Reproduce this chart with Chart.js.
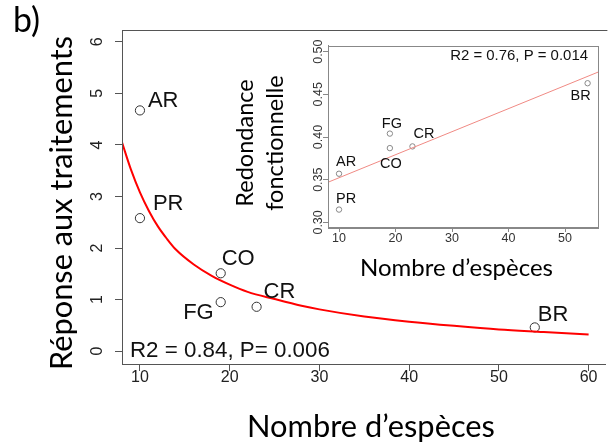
<!DOCTYPE html>
<html>
<head>
<meta charset="utf-8">
<script src="https://cdn.jsdelivr.net/npm/chart.js@4.4.1/dist/chart.umd.min.js"></script>
<style>
  html, body { margin: 0; padding: 0; background: #ffffff; }
  #wrap { position: relative; width: 611px; height: 444px; overflow: hidden; background: #fff; }
  #main { position: absolute; left: 0; top: 0; }
  #inset { position: absolute; left: 230px; top: 35px; }
</style>
</head>
<body>
<div id="wrap">
  <canvas id="main" width="611" height="444"></canvas>
  <canvas id="inset" width="381" height="255"></canvas>
</div>
<script>
// ---------- DATA ----------
const sites = ['AR', 'PR', 'CO', 'FG', 'CR', 'BR'];

// main panel: response to treatments vs number of species
const mainSpecies  = [10, 10, 19, 19, 23, 54];
const mainResponse = [4.67, 2.58, 1.51, 0.95, 0.86, 0.46];

// fitted decreasing curve
const curveSpecies  = [8, 9, 10, 11, 12, 13, 14, 16, 18, 20, 22, 25, 28, 30, 35, 40, 45, 50, 55, 60];
const curveResponse = [4.05, 3.52, 3.08, 2.72, 2.42, 2.18, 1.97, 1.68, 1.46, 1.29, 1.15, 1.01, 0.88, 0.81, 0.67, 0.57, 0.49, 0.42, 0.37, 0.32];

const mainXTicks = [10, 20, 30, 40, 50, 60];
const mainYTicks = [0, 1, 2, 3, 4, 5, 6];
const mainXTickLabels = ['10', '20', '30', '40', '50', '60'];
const mainYTickLabels = ['0', '1', '2', '3', '4', '5', '6'];

// inset: functional redundancy vs number of species
const insetSpecies    = [10, 10, 19, 19, 23, 54];
const insetRedundancy = [0.357, 0.315, 0.387, 0.404, 0.389, 0.463];

// regression line end points (read at the panel edges)
const fitSpecies    = [8.05, 55.84];
const fitRedundancy = [0.347, 0.476];

const insetXTicks = [10, 20, 30, 40, 50];
const insetYTicks = [0.30, 0.35, 0.40, 0.45, 0.50];
const insetXTickLabels = ['10', '20', '30', '40', '50'];
const insetYTickLabels = ['0.30', '0.35', '0.40', '0.45', '0.50'];

const mainStat  = 'R2 = 0.84, P= 0.006';
const insetStat = 'R2 = 0.76, P = 0.014';
const xTitle = 'Nombre d’espèces';
const yTitle = 'Réponse aux traitements';
const insetYTitle = ['Redondance', 'fonctionnelle'];
const panelTag = 'b)';

// ---------- STYLE ----------
const SANS  = '"Liberation Sans", Arial, Helvetica, sans-serif';
const TITLE = 'Lato, "Open Sans", "Noto Sans", sans-serif';

// label placement (align, dx, dy from the point centre to the text baseline)
const mainLabelPos = [
  ['left', 8, -3], ['left', 13, -8], ['left', 1, -8],
  ['right', -7, 17], ['left', 7, -9], ['left', 3, -6]
];
const insetLabelPos = [
  ['left', -3, -8], ['left', -3, -7], ['center', 1, 20],
  ['center', 2, -6], ['left', 1, -8], ['right', 3, 17]
];

function fitSize(ctx, text, family, width) {
  ctx.font = '100px ' + family;
  return 100 * width / ctx.measureText(text).width;
}

function pts(xs, ys) { return xs.map((x, i) => ({ x: x, y: ys[i] })); }

function setTicks(values) {
  return function (scale) { scale.ticks = values.map(v => ({ value: v })); };
}

// ---------- MAIN CHART ----------
const mainDecor = {
  id: 'mainDecor',
  afterDraw(chart) {
    const ctx = chart.ctx;
    const a = chart.chartArea;
    const ys = chart.scales.y;
    ctx.save();
    // box (right side is outside the picture)
    ctx.strokeStyle = '#555';
    ctx.lineWidth = 1;
    ctx.beginPath();
    ctx.moveTo(a.right + 2, Math.round(a.top) + 0.5);
    ctx.lineTo(Math.round(a.left) + 0.5, Math.round(a.top) + 0.5);
    ctx.lineTo(Math.round(a.left) + 0.5, Math.round(a.bottom) + 0.5);
    ctx.stroke();

    // rotated y tick labels
    ctx.fillStyle = '#222';
    ctx.font = '16px ' + SANS;
    ctx.textAlign = 'center';
    ctx.textBaseline = 'alphabetic';
    ys.ticks.forEach((t, i) => {
      const py = ys.getPixelForValue(t.value);
      ctx.save();
      ctx.translate(102, py);
      ctx.rotate(-Math.PI / 2);
      ctx.fillText(mainYTickLabels[i], 0, 0);
      ctx.restore();
    });

    // point labels
    const meta = chart.getDatasetMeta(1);
    ctx.fillStyle = '#111';
    ctx.font = '22px ' + SANS;
    meta.data.forEach((el, i) => {
      const p = mainLabelPos[i];
      ctx.textAlign = p[0];
      ctx.fillText(sites[i], el.x + p[1], el.y + p[2]);
    });

    // statistics
    ctx.textAlign = 'left';
    ctx.font = fitSize(ctx, mainStat, SANS, 200).toFixed(2) + 'px ' + SANS;
    ctx.fillText(mainStat, 130, 357);

    // titles
    ctx.fillStyle = '#000';
    ctx.textAlign = 'center';
    ctx.font = fitSize(ctx, xTitle, TITLE, 248).toFixed(2) + 'px ' + TITLE;
    ctx.fillText(xTitle, 371, 437);

    ctx.save();
    ctx.font = fitSize(ctx, yTitle, TITLE, 334).toFixed(2) + 'px ' + TITLE;
    ctx.translate(72, 203);
    ctx.rotate(-Math.PI / 2);
    ctx.fillText(yTitle, 0, 0);
    ctx.restore();

    ctx.textAlign = 'left';
    ctx.font = fitSize(ctx, panelTag, TITLE, 27).toFixed(2) + 'px ' + TITLE;
    ctx.fillText(panelTag, 13, 32);
    ctx.restore();
  }
};

new Chart(document.getElementById('main'), {
  type: 'scatter',
  data: {
    datasets: [
      {
        type: 'line',
        data: pts(curveSpecies, curveResponse),
        borderColor: '#ff0000',
        borderWidth: 2,
        pointRadius: 0,
        fill: false,
        tension: 0.4,
        cubicInterpolationMode: 'monotone'
      },
      {
        type: 'scatter',
        data: pts(mainSpecies, mainResponse),
        pointRadius: 4.6,
        pointBorderWidth: 1,
        borderColor: '#333',
        backgroundColor: 'rgba(0,0,0,0)',
        pointBackgroundColor: 'rgba(0,0,0,0)',
        pointBorderColor: '#333'
      }
    ]
  },
  options: {
    responsive: false,
    animation: false,
    events: [],
    layout: { padding: { left: 0, top: 30, right: 0, bottom: 0 } },
    plugins: { legend: { display: false }, tooltip: { enabled: false } },
    scales: {
      x: {
        type: 'linear',
        min: 8,
        max: 61.87,
        afterBuildTicks: setTicks(mainXTicks),
        afterFit(s) { s.height = 80; },
        grid: { drawOnChartArea: false, tickLength: 7, color: '#555' },
        border: { display: true, color: '#555', width: 1 },
        ticks: {
          autoSkip: false, maxRotation: 0, padding: -3, color: '#222',
          font: { family: SANS, size: 16 },
          callback: (v, i) => mainXTickLabels[i]
        }
      },
      y: {
        type: 'linear',
        min: -0.25,
        max: 6.23,
        afterBuildTicks: setTicks(mainYTicks),
        afterFit(s) { s.width = 122; },
        grid: { drawOnChartArea: false, tickLength: 7, color: '#555' },
        border: { display: true, color: '#555', width: 1 },
        ticks: { color: 'rgba(0,0,0,0)', font: { family: SANS, size: 16 } }
      }
    }
  },
  plugins: [mainDecor]
});

// ---------- INSET CHART ----------
const insetDecor = {
  id: 'insetDecor',
  afterDraw(chart) {
    const ctx = chart.ctx;
    const a = chart.chartArea;
    const ys = chart.scales.y;
    ctx.save();
    ctx.strokeStyle = '#888';
    ctx.lineWidth = 1;
    ctx.strokeRect(Math.round(a.left) + 0.5, Math.round(a.top) + 0.5,
                   Math.round(a.right - a.left), Math.round(a.bottom - a.top));

    ctx.fillStyle = '#333';
    ctx.font = '12.5px ' + SANS;
    ctx.textAlign = 'center';
    ys.ticks.forEach((t, i) => {
      const py = ys.getPixelForValue(t.value);
      ctx.save();
      ctx.translate(91.5, py);
      ctx.rotate(-Math.PI / 2);
      ctx.fillText(insetYTickLabels[i], 0, 0);
      ctx.restore();
    });

    const meta = chart.getDatasetMeta(1);
    ctx.fillStyle = '#111';
    ctx.font = '14.5px ' + SANS;
    meta.data.forEach((el, i) => {
      const p = insetLabelPos[i];
      ctx.textAlign = p[0];
      ctx.fillText(sites[i], el.x + p[1], el.y + p[2]);
    });

    ctx.textAlign = 'right';
    ctx.font = fitSize(ctx, insetStat, SANS, 138).toFixed(2) + 'px ' + SANS;
    ctx.fillText(insetStat, 358, 25);

    ctx.fillStyle = '#000';
    ctx.textAlign = 'center';
    ctx.font = fitSize(ctx, xTitle, TITLE, 193).toFixed(2) + 'px ' + TITLE;
    ctx.fillText(xTitle, 226.5, 241);

    const s1 = fitSize(ctx, insetYTitle[0], TITLE, 128);
    const s2 = fitSize(ctx, insetYTitle[1], TITLE, 135);
    ctx.font = ((s1 + s2) / 2).toFixed(2) + 'px ' + TITLE;
    ctx.save();
    ctx.translate(23, 108);
    ctx.rotate(-Math.PI / 2);
    ctx.fillText(insetYTitle[0], 0, 0);
    ctx.fillText(insetYTitle[1], 0, 30);
    ctx.restore();
    ctx.restore();
  }
};

new Chart(document.getElementById('inset'), {
  type: 'scatter',
  data: {
    datasets: [
      {
        type: 'line',
        data: pts(fitSpecies, fitRedundancy),
        borderColor: '#f08a84',
        borderWidth: 1,
        pointRadius: 0,
        fill: false
      },
      {
        type: 'scatter',
        data: pts(insetSpecies, insetRedundancy),
        pointRadius: 2.7,
        pointBorderWidth: 1,
        pointBorderColor: '#888',
        pointBackgroundColor: 'rgba(0,0,0,0)',
        borderColor: '#888',
        backgroundColor: 'rgba(0,0,0,0)'
      }
    ]
  },
  options: {
    responsive: false,
    animation: false,
    events: [],
    layout: { padding: { left: 0, top: 9, right: 13, bottom: 0 } },
    plugins: { legend: { display: false }, tooltip: { enabled: false } },
    scales: {
      x: {
        type: 'linear',
        min: 8.05,
        max: 55.84,
        afterBuildTicks: setTicks(insetXTicks),
        afterFit(s) { s.height = 63; },
        grid: { drawOnChartArea: false, tickLength: 5, color: '#888' },
        border: { display: true, color: '#888', width: 1 },
        ticks: {
          autoSkip: false, maxRotation: 0, padding: -1, color: '#333',
          font: { family: SANS, size: 12.5 },
          callback: (v, i) => insetXTickLabels[i]
        }
      },
      y: {
        type: 'linear',
        min: 0.2946,
        max: 0.5072,
        afterBuildTicks: setTicks(insetYTicks),
        afterFit(s) { s.width = 98; },
        grid: { drawOnChartArea: false, tickLength: 5, color: '#888' },
        border: { display: true, color: '#888', width: 1 },
        ticks: { color: 'rgba(0,0,0,0)', font: { family: SANS, size: 12.5 } }
      }
    }
  },
  plugins: [insetDecor]
});
</script>
</body>
</html>
